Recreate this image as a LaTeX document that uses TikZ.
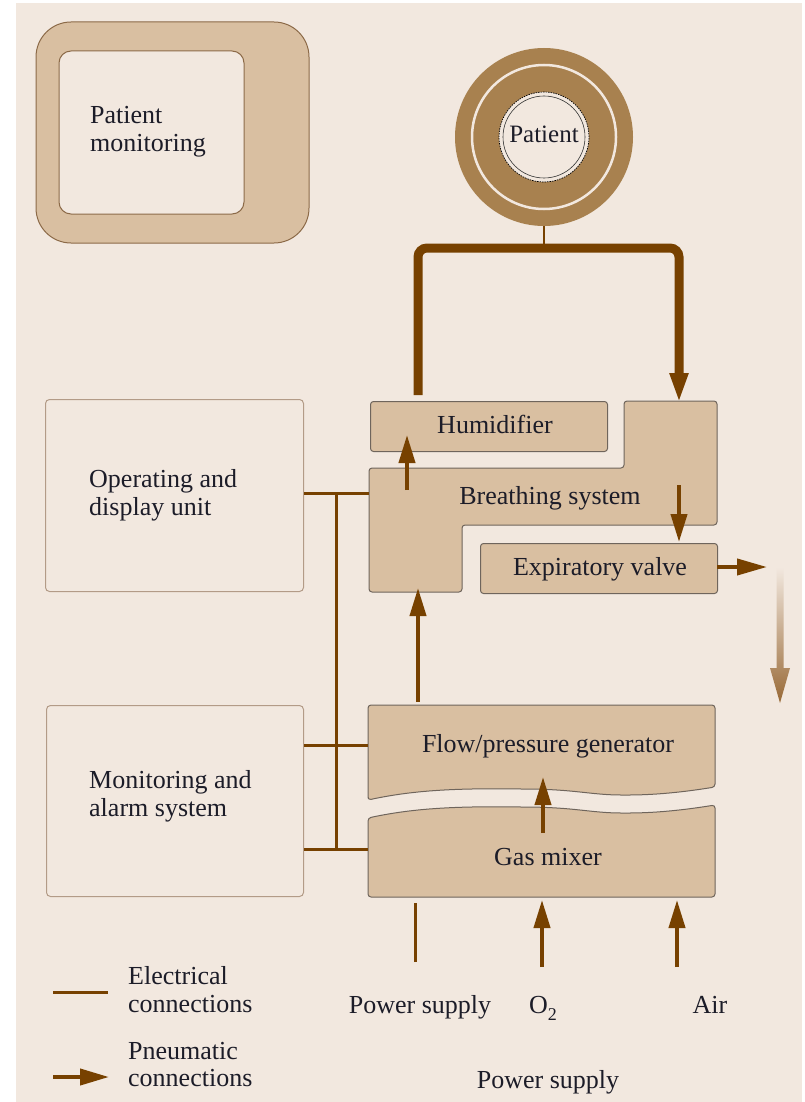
\documentclass[tikz,border=0pt]{standalone}
\usepackage{fontspec}
\setmainfont{Liberation Serif}
\usetikzlibrary{arrows.meta,calc}
\definecolor{paper}{HTML}{F2E8DF}
\definecolor{tanfill}{HTML}{D9BFA1}
\definecolor{darkbrown}{HTML}{774100}
\definecolor{ringbrown}{HTML}{A8814F}
\definecolor{exhaust}{HTML}{986936}
\definecolor{edgegray}{HTML}{6F655C}
\definecolor{paneledge}{HTML}{B39B87}
\definecolor{monedge}{HTML}{8C6A48}
\definecolor{ink}{HTML}{1C1C28}
\begin{document}
\begin{tikzpicture}[x=1pt,y=-1pt,
  every node/.style={text=ink, inner sep=0pt},
  txt/.style={font=\fontsize{26}{28}\selectfont},
  multi/.style={txt, align=left, anchor=west},
  unitbox/.style={draw=edgegray, line width=1pt, fill=tanfill, rounded corners=3pt},
  panelbox/.style={draw=paneledge, line width=1pt, fill=paper, rounded corners=4pt, anchor=north west},
  elec/.style={draw=darkbrown, line width=3pt},
  pneu/.style={draw=darkbrown, line width=4pt, -{Triangle[length=28pt,width=16pt]}},
  mainline/.style={draw=darkbrown, line width=9pt, rounded corners=9pt, -{Triangle[length=30pt,width=17pt]}},
]
% page and background
\useasboundingbox (0,0) rectangle (805,1102);
\fill[white] (0,0) rectangle (805,1102);
\fill[paper] (16,3) rectangle (802,1102);

% patient monitor
\draw[draw=monedge, line width=1pt, fill=tanfill, rounded corners=35pt] (36,22) rectangle (309,243);
\draw[draw=monedge, line width=1pt, fill=paper, rounded corners=12pt] (59,51) rectangle (244,214);
\node[multi] (montext) at (90,132) {Patient\\monitoring};

% patient
\fill[ringbrown] (544,137) circle[radius=89pt];
\draw[paper, line width=2.5pt] (544,137) circle[radius=72pt];
\fill[paper] (544,137) circle[radius=45pt];
\draw[black, line width=0.7pt, dash pattern=on 1.5pt off 1pt] (544,137) circle[radius=45pt];
\draw[black!80, line width=0.6pt] (544,137) circle[radius=41pt];
\node[anchor=center, minimum size=178pt, circle] (patient) at (544,137) {};
\node[font=\fontsize{25}{28}\selectfont, anchor=base] (patlabel) at (544,143) {Patient};

% control panels
\node[panelbox, minimum width=258pt, minimum height=192pt] (opunit) at (45,399) {};
\node[multi] (optext) at (89,495) {Operating and\\display unit};
\node[panelbox, minimum width=257pt, minimum height=191pt] (alarm) at (46,705) {};
\node[multi] (alarmtext) at (89,796) {Monitoring and\\alarm system};

% humidifier
\node[unitbox, anchor=north west, minimum width=237pt, minimum height=50pt] (humid) at (370,401) {};
\node[txt, anchor=base] (humidtext) at (495,433) {Humidifier};

% breathing system
\path[unitbox] (369,468) -- (624,468) -- (624,401) -- (717,401) -- (717,525)
  -- (462,525) -- (462,592) -- (369,592) -- cycle;
\node[txt, anchor=base] (breath) at (550,504) {Breathing system};
\coordinate (breathW) at (369,493);
\coordinate (breathS) at (418,588);

% expiratory valve
\node[unitbox, anchor=north west, minimum width=237pt, minimum height=50pt] (expvalve) at (480,543) {};
\node[txt, anchor=base] (exptext) at (600,575) {Expiratory valve};

% flow / pressure generator
\path[unitbox] (368,800) -- (368,705) -- (715,705) -- (715,787)
  .. controls (690,791) and (660,795) .. (625,795)
  .. controls (590,795) and (575,789) .. (520,789)
  .. controls (450,788) and (410,791) .. (368,800) -- cycle;
\node[txt, anchor=base] (flowgen) at (548,752) {Flow/pressure generator};

% gas mixer
\path[unitbox] (368,897) -- (368,818)
  .. controls (410,809) and (450,806) .. (520,807)
  .. controls (575,807) and (590,813) .. (625,813)
  .. controls (660,813) and (690,809) .. (715,805) -- (715,897) -- cycle;
\node[txt, anchor=base] (mixer) at (548,865) {Gas mixer};

% breathing circuit to and from the patient
\coordinate (humtop) at (418,395);
\coordinate (junction) at (544,248);
\coordinate (breathtop) at (679,403);
\draw[darkbrown, line width=2pt] (patient.south) -- (junction);
\draw[mainline] (humtop) -- (418,248) -- (679,248) -- (breathtop);

% pneumatic connections
\coordinate (bs1) at (407,490);
\coordinate (hum1) at (407,435);
\draw[pneu] (bs1) -- (hum1);
\coordinate (bs2) at (679,485);
\coordinate (ev1) at (679,542);
\draw[pneu] (bs2) -- (ev1);
\coordinate (ev2) at (717,567);
\coordinate (exout) at (767,567);
\draw[pneu, -{Triangle[length=30pt,width=16pt]}] (ev2) -- (exout);
\coordinate (fg1) at (418,702);
\draw[pneu] (fg1) -- (breathS);
\coordinate (gm1) at (543,833);
\coordinate (fg2) at (543,777);
\draw[pneu] (gm1) -- (fg2);

% exhaust to the room
\shade[top color=paper, bottom color=exhaust]
  (776.5,567) -- (783.5,567) -- (783.5,668) -- (790,668) -- (780,703) -- (770,668) -- (776.5,668) -- cycle;

% supplies
\coordinate (pwrtop) at (415,903);
\coordinate (pwrbot) at (415,962);
\draw[elec] (pwrbot) -- (pwrtop);
\coordinate (o2in) at (542,967);
\coordinate (o2tip) at (542,900);
\draw[pneu] (o2in) -- (o2tip);
\coordinate (airin) at (677,967);
\coordinate (airtip) at (677,900);
\draw[pneu] (airin) -- (airtip);
\node[txt, anchor=base] (pwrlabel) at (420,1013) {Power supply};
\node[txt, anchor=base] (o2label) at (543,1013) {O\raisebox{-0.28em}{\fontsize{18}{18}\selectfont 2}};
\node[txt, anchor=base] (airlabel) at (710,1013) {Air};
\node[txt, anchor=base] (pwrlabel2) at (548,1088) {Power supply};

% electrical bus
\coordinate (busTop) at (336,493);
\coordinate (busMid) at (336,745);
\coordinate (busBot) at (336,849);
\draw[elec] (opunit.east |- busTop) -- (breathW);
\draw[elec] (busTop) -- (busBot);
\draw[elec] (alarm.east |- busMid) -- (368,745);
\draw[elec] (alarm.east |- busBot) -- (368,849);

% legend
\coordinate (le1) at (53,992);
\coordinate (le2) at (108,992);
\draw[elec] (le1) -- (le2);
\node[multi] (legelec) at (128,990) {Electrical\\connections};
\coordinate (lp1) at (53,1077);
\coordinate (lp2) at (109,1077);
\draw[pneu, -{Triangle[length=29pt,width=16pt]}] (lp1) -- (lp2);
\node[multi, font=\fontsize{26}{27}\selectfont] (legpneu) at (128,1065) {Pneumatic\\connections};
\end{tikzpicture}
\end{document}
